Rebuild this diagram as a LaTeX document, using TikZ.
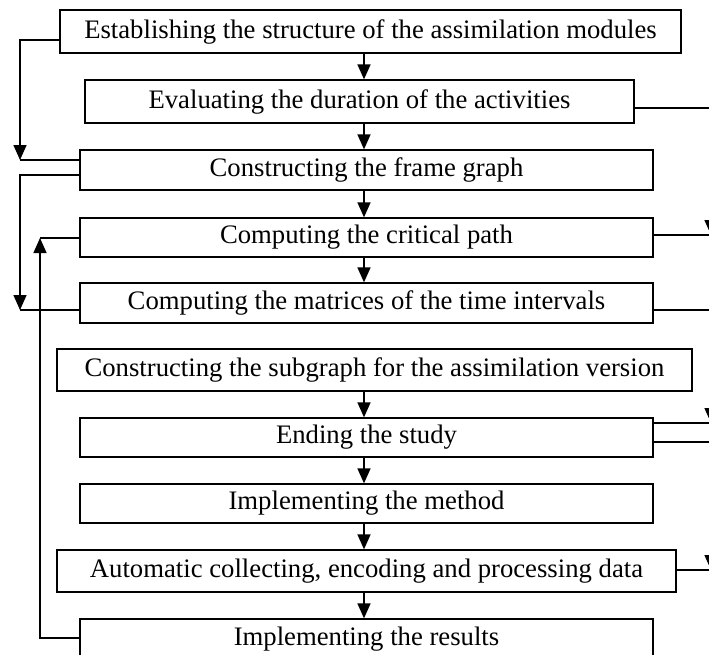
\documentclass[tikz,border=0pt]{standalone}
\usepackage{fontspec}
\setmainfont{Liberation Serif}
\usetikzlibrary{arrows.meta}
\begin{document}
\begin{tikzpicture}[x=1pt,y=-1pt,
  box/.style={draw,line width=1.3pt,inner sep=0pt,align=center,
    font=\fontsize{26.7}{30}\selectfont},
  conn/.style={line width=1.5pt},
  arr/.style={-{Triangle[width=13pt,length=15pt]}}]
\useasboundingbox (0,0) rectangle (709,654);
\clip (0,0) rectangle (709,654);
% boxes: center x, center y, width, height
\node[box,minimum width=621pt,minimum height=43pt] (b1) at (370.5,31.5) {Establishing the structure of the assimilation modules};
\node[box,minimum width=549pt,minimum height=43pt] (b2) at (359.5,101.5) {Evaluating the duration of the activities};
\node[box,minimum width=573pt,minimum height=40pt] (b3) at (366.5,170) {Constructing the frame graph};
\node[box,minimum width=573pt,minimum height=39pt] (b4) at (366.5,237.5) {Computing the critical path};
\node[box,minimum width=573pt,minimum height=40pt] (b5) at (366.5,303) {Computing the matrices of the time intervals};
\node[box,minimum width=635pt,minimum height=42pt] (b6) at (374.5,370) {Constructing the subgraph for the assimilation version};
\node[box,minimum width=573pt,minimum height=39pt] (b7) at (366.5,437.5) {Ending the study};
\node[box,minimum width=573pt,minimum height=39pt] (b8) at (366.5,503.5) {Implementing the method};
\node[box,minimum width=619pt,minimum height=42pt] (b9) at (366.5,571) {Automatic collecting, encoding and processing data};
\node[box,minimum width=573pt,minimum height=41pt] (b10) at (366.5,639.5) {Implementing the results};
% central arrows
\coordinate (cx) at (364,0);
\foreach \a/\b in {b1/b2,b2/b3,b3/b4,b4/b5,b6/b7,b7/b8,b8/b9,b9/b10}
  \draw[conn,arr] (\a.south-|cx) -- (\b.north-|cx);
% left connectors
\coordinate (la) at (20,40);  \coordinate (lb) at (20,160);
\draw[conn,arr] (b1.west|-la) -- (la) -- (lb);
\draw[conn] (lb) -- (b3.west|-lb);
\coordinate (lc) at (20,175); \coordinate (ld) at (20,310);
\draw[conn,arr] (b3.west|-lc) -- (lc) -- (ld);
\draw[conn] (ld) -- (b5.west|-ld);
\coordinate (le) at (40,638); \coordinate (lf) at (40,238);
\draw[conn,arr] (b10.west|-le) -- (le) -- (lf);
\draw[conn] (lf) -- (b4.west|-lf);
% right connectors (running off the page)
\coordinate (ra) at (711,108); \coordinate (rb) at (711,235);
\draw[conn,arr] (b2.east|-ra) -- (ra) -- (rb);
\draw[conn] (rb) -- (b4.east|-rb);
\coordinate (rc) at (711,310); \coordinate (rd) at (711,423);
\draw[conn,arr] (b5.east|-rc) -- (rc) -- (rd);
\draw[conn] (rd) -- (b7.east|-rd);
\coordinate (re) at (711,442); \coordinate (rf) at (711,570);
\draw[conn,arr] (b7.east|-re) -- (re) -- (rf);
\draw[conn] (rf) -- (b9.east|-rf);
\end{tikzpicture}
\end{document}
